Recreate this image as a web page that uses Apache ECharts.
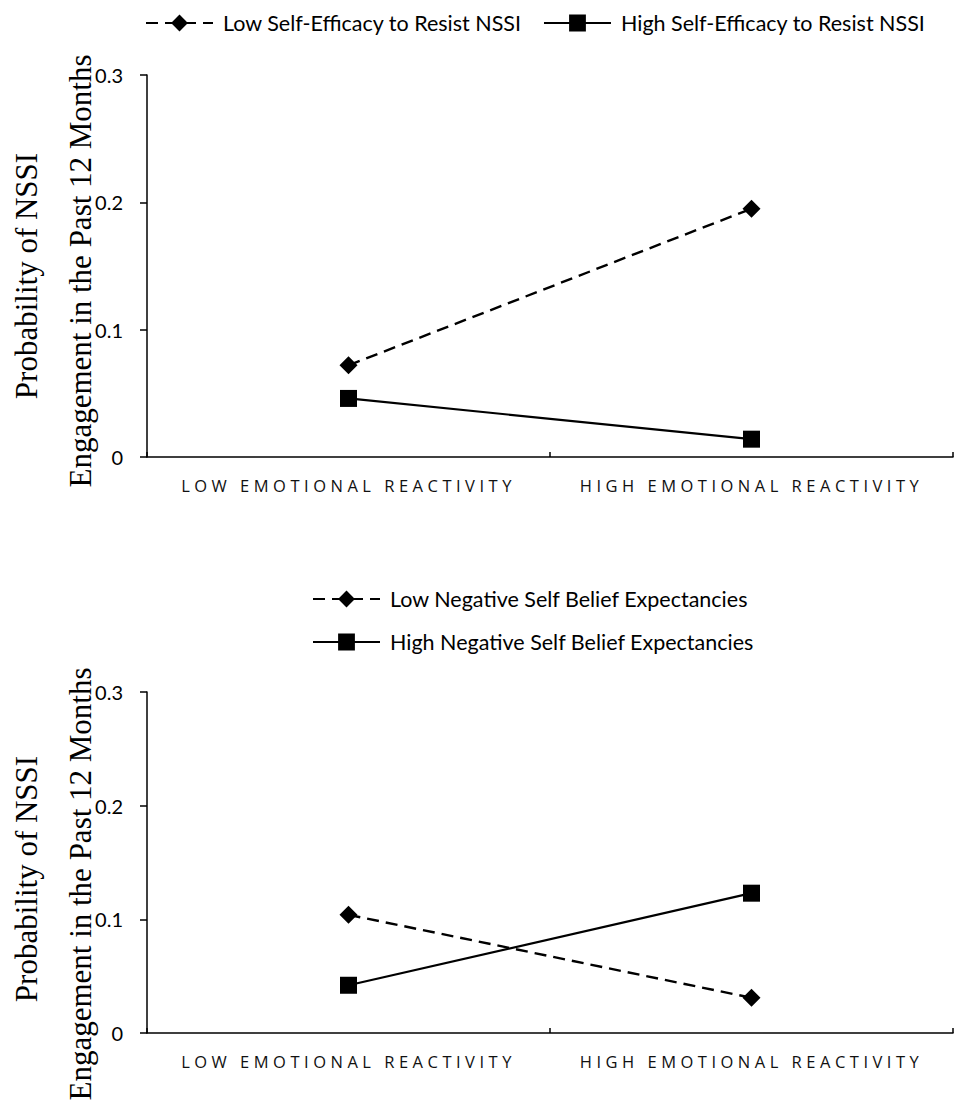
<!DOCTYPE html>
<html>
<head>
<meta charset="utf-8">
<script src="https://cdn.jsdelivr.net/npm/echarts@6/dist/echarts.min.js"></script>
<style>
  html, body { margin: 0; padding: 0; background: #fff; }
  #chart { width: 954px; height: 1104px; }
  /* spaced-out capitals on the category axes */
  #chart text[style*="Open Sans"] { letter-spacing: 4.5px; }
</style>
</head>
<body>
<div id="chart"></div>
<script>
// Categories shared by both panels
const categories = ['LOW EMOTIONAL REACTIVITY', 'HIGH EMOTIONAL REACTIVITY'];

// Panel 1: self-efficacy to resist NSSI
const efficacyNames = ['Low Self-Efficacy to Resist NSSI', 'High Self-Efficacy to Resist NSSI'];
const efficacyLow = [0.072, 0.195];
const efficacyHigh = [0.046, 0.014];

// Panel 2: negative self belief expectancies
const beliefNames = ['Low Negative Self Belief Expectancies', 'High Negative Self Belief Expectancies'];
const beliefLow = [0.104, 0.031];
const beliefHigh = [0.042, 0.123];

// Value axis range
const yMin = 0, yMax = 0.3, yStep = 0.1;

// Axis title lines
const titleLine1 = 'Probability of NSSI';
const titleLine2 = 'Engagement in the Past 12 Months';

const sans = 'Lato';
const black = '#000';
const dash = [12, 7];

function xAxis(gridIndex) {
  return {
    type: 'category', gridIndex, data: categories, boundaryGap: true,
    axisLine: { lineStyle: { color: black, width: 1.5 } },
    axisTick: { show: true, inside: true, length: 5, alignWithLabel: false, lineStyle: { color: black, width: 1.5 } },
    axisLabel: { interval: 0, margin: 20, fontFamily: 'Open Sans', fontSize: 16.5, color: '#111' },
    splitLine: { show: false }
  };
}
function yAxis(gridIndex) {
  return {
    type: 'value', gridIndex, min: yMin, max: yMax, interval: yStep,
    axisLine: { show: true, lineStyle: { color: black, width: 1.5 } },
    axisTick: { show: true, inside: false, length: 7, lineStyle: { color: black, width: 1.5 } },
    axisLabel: { margin: 24, align: 'right', fontFamily: sans, fontSize: 20, color: black },
    splitLine: { show: false }
  };
}
function lowSeries(name, data, idx) {
  return {
    name, type: 'line', data, xAxisIndex: idx, yAxisIndex: idx,
    symbol: 'diamond', symbolSize: 18,
    lineStyle: { color: black, width: 2.4, type: dash },
    itemStyle: { color: black }
  };
}
function highSeries(name, data, idx) {
  return {
    name, type: 'line', data, xAxisIndex: idx, yAxisIndex: idx,
    symbol: 'rect', symbolSize: 17,
    lineStyle: { color: black, width: 2.2, type: 'solid' },
    itemStyle: { color: black }
  };
}
function titleText(text, x, y) {
  return {
    type: 'text', x, y, rotation: Math.PI / 2,
    style: {
      text, fontFamily: '"Liberation Serif", "Times New Roman", serif', fontSize: 31,
      fill: black, align: 'center', verticalAlign: 'middle',
      textAlign: 'center', textVerticalAlign: 'middle'
    }
  };
}
const legendText = { fontFamily: sans, fontSize: 21.5, color: black, padding: [0, 0, 0, 5] };

const chart = echarts.init(document.getElementById('chart'), null, { renderer: 'svg' });
chart.setOption({
  animation: false,
  backgroundColor: '#fff',
  grid: [
    { left: 147, right: 1, top: 75, height: 382 },
    { left: 147, right: 1, top: 692, height: 341 }
  ],
  xAxis: [xAxis(0), xAxis(1)],
  yAxis: [yAxis(0), yAxis(1)],
  legend: [
    {
      data: efficacyNames, orient: 'horizontal', left: 145, top: 12, padding: 0,
      itemWidth: 67, itemHeight: 21, itemGap: 21, textStyle: legendText
    },
    {
      data: beliefNames, orient: 'vertical', left: 312, top: 588, padding: 0,
      itemWidth: 67, itemHeight: 21, itemGap: 21, textStyle: legendText
    }
  ],
  series: [
    lowSeries(efficacyNames[0], efficacyLow, 0),
    highSeries(efficacyNames[1], efficacyHigh, 0),
    lowSeries(beliefNames[0], beliefLow, 1),
    highSeries(beliefNames[1], beliefHigh, 1)
  ],
  graphic: [
    titleText(titleLine1, 26, 276),
    titleText(titleLine2, 80, 271),
    titleText(titleLine1, 26, 879),
    titleText(titleLine2, 80, 884)
  ]
});
</script>
</body>
</html>
